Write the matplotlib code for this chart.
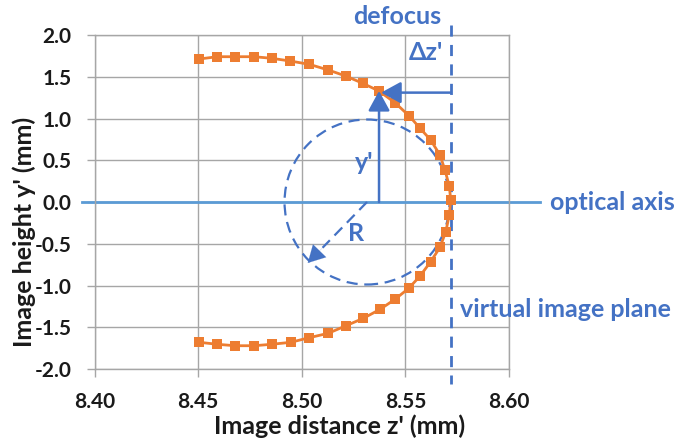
import numpy as np
import matplotlib
matplotlib.use("Agg")
import matplotlib.pyplot as plt
from matplotlib.patches import Ellipse

plt.rcParams['font.family'] = ['Lato', 'DejaVu Sans']

# image distance z' (mm) and image height y' (mm)
z_upper = [8.4506, 8.4593, 8.4678, 8.4770, 8.4855, 8.4943, 8.5036, 8.5128, 8.5212, 8.5294,
           8.5373, 8.5450, 8.5519, 8.5571, 8.5622, 8.5667, 8.5691, 8.5712, 8.5719]
y_upper = [1.713, 1.740, 1.740, 1.740, 1.721, 1.689, 1.649, 1.581, 1.509, 1.422,
           1.329, 1.189, 1.030, 0.883, 0.743, 0.563, 0.383, 0.192, 0.024]
z_lower = [8.5712, 8.5695, 8.5667, 8.5622, 8.5571, 8.5516, 8.5450, 8.5378, 8.5297, 8.5214,
           8.5128, 8.5036, 8.4947, 8.4855, 8.4770, 8.4678, 8.4593, 8.4506]
y_lower = [-0.156, -0.356, -0.543, -0.715, -0.886, -1.034, -1.165, -1.285, -1.393, -1.481,
           -1.572, -1.625, -1.680, -1.704, -1.721, -1.721, -1.704, -1.680]

z_vals = np.array(z_upper + z_lower)
y_vals = np.array(y_upper + y_lower)

x_ticks = [8.40, 8.45, 8.50, 8.55, 8.60]
y_ticks = [2.0, 1.5, 1.0, 0.5, 0.0, -0.5, -1.0, -1.5, -2.0]

# sketch elements
z_plane = 8.5719          # virtual image plane
circle_center = (8.5315, 0.0)
circle_w, circle_h = 0.0796, 1.976
y_marker = (8.5373, 1.33)
r_tip = (8.5029, -0.73)

BLUE = '#4472C4'
LIGHT_BLUE = '#5B9BD5'
ORANGE = '#ED7D31'
GRID = '#A6A6A6'
HEAD = '-|>,head_length=0.55,head_width=0.3'

fig = plt.figure(figsize=(6.77, 4.43), dpi=100)
ax = fig.add_axes([0.1396, 0.167, 0.6122, 0.754])

ax.set_xlim(8.40, 8.60)
ax.set_ylim(-2.0, 2.0)
ax.set_xticks(x_ticks)
ax.set_yticks(y_ticks)
ax.set_xticklabels(['%.2f' % v for v in x_ticks])
ax.set_yticklabels(['%.1f' % v for v in y_ticks])
ax.grid(True, color=GRID, linewidth=1.0)
ax.set_axisbelow(True)
for s in ax.spines.values():
    s.set_color(GRID)
    s.set_linewidth(1.0)
ax.tick_params(axis='both', colors=GRID, length=5.5, width=1.0, labelcolor='#1a1a1a',
               labelsize=15)
ax.tick_params(axis='y', pad=11)
ax.tick_params(axis='x', pad=11)
for lab in ax.get_xticklabels() + ax.get_yticklabels():
    lab.set_fontweight('bold')

ax.set_xlabel("Image distance z' (mm)", fontsize=18, fontweight='bold', color='#1a1a1a')
ax.set_ylabel("Image height y' (mm)", fontsize=18, fontweight='bold', color='#1a1a1a')
ax.xaxis.set_label_coords(0.591, -0.135)
ax.yaxis.set_label_coords(-0.14, 0.41)

# optical axis
ax.plot([8.394, 8.615], [0, 0], color=LIGHT_BLUE, linewidth=2.0, clip_on=False, zorder=2)

# data series
ax.plot(z_vals, y_vals, color=ORANGE, linewidth=2.0, marker='s', markersize=6.8,
        markeredgewidth=0, zorder=4)

# virtual image plane
ax.plot([z_plane, z_plane], [2.12, -2.18], color=BLUE, linewidth=2.0,
        linestyle=(0, (4, 3)), clip_on=False, zorder=3)

# dashed circle
ell = Ellipse(circle_center, circle_w, circle_h, fill=False, edgecolor=BLUE,
              linewidth=1.6, linestyle=(0, (5, 3)), zorder=3)
ax.add_patch(ell)

# y' arrow
ax.annotate('', xy=y_marker, xytext=(y_marker[0], 0.0),
            arrowprops=dict(arrowstyle=HEAD, color=BLUE, lw=1.8, mutation_scale=22,
                            shrinkA=0, shrinkB=0), zorder=5)
# defocus arrow
ax.annotate('', xy=(y_marker[0] + 0.001, 1.31), xytext=(z_plane, 1.31),
            arrowprops=dict(arrowstyle=HEAD, color=BLUE, lw=1.8, mutation_scale=22,
                            shrinkA=0, shrinkB=0), zorder=5)
# R arrow: dashed shaft and solid head
dz = r_tip[0] - circle_center[0]
dy = r_tip[1] - circle_center[1]
ax.plot([circle_center[0], circle_center[0] + 0.75 * dz], [0, 0.75 * dy], color=BLUE,
        linewidth=1.6, linestyle=(0, (5, 3)), zorder=3)
ax.annotate('', xy=r_tip, xytext=(circle_center[0] + 0.7 * dz, 0.7 * dy),
            arrowprops=dict(arrowstyle=HEAD, color=BLUE, lw=0.1, mutation_scale=22,
                            shrinkA=0, shrinkB=0), zorder=5)

txt = dict(color=BLUE, fontweight='bold', fontsize=18, clip_on=False)
ax.text(8.5672, 2.22, 'defocus', ha='right', va='center', **txt)
ax.text(8.5681, 1.79, "\u0394z'", ha='right', va='center', **txt)
ax.text(8.6198, 0.0, 'optical axis', ha='left', va='center', **txt)
ax.text(8.5764, -1.293, 'virtual image plane', ha='left', va='center', **txt)
ax.text(8.5301, 0.479, "y'", ha='center', va='center', **txt)
ax.text(8.5264, -0.377, 'R', ha='center', va='center', **txt)

fig.savefig('out.png', dpi=100)
